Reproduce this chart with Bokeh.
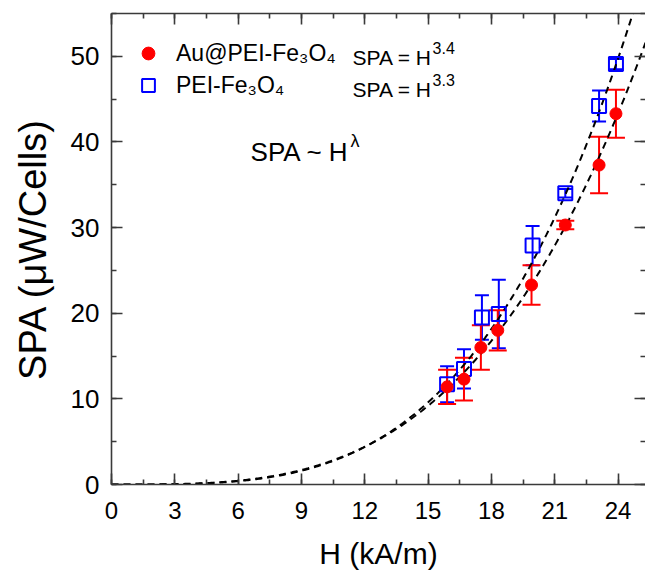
import numpy as np
from bokeh.plotting import figure
from bokeh.models import (ColumnDataSource, Whisker, TeeHead, LinearAxis,
                          SingleIntervalTicker, Range1d, Legend, LegendItem, Label,
                          CustomJSTickFormatter)
from bokeh.embed import file_html
from bokeh.resources import INLINE

# ---- data ----
H_au = [15.9, 16.7, 17.5, 18.3, 19.9, 21.5, 23.1, 23.9]
SPA_au = [11.4, 12.3, 16.0, 18.0, 23.3, 30.3, 37.3, 43.3]
ERR_au = [2.0, 2.5, 2.6, 2.35, 2.3, 0.5, 3.3, 2.8]

H_pei = [15.9, 16.7, 17.55, 18.35, 19.95, 21.5, 23.1, 23.9]
SPA_pei = [11.7, 13.5, 19.5, 19.9, 27.9, 34.0, 44.2, 49.1]
ERR_pei = [2.1, 2.3, 2.6, 4.0, 2.3, 0.5, 1.8, 0.6]

# power-law fit curves SPA = A * H^lambda (as drawn)
FIT_PEI_A, FIT_PEI_EXP = 7.344e-4, 3.5
FIT_AU_A, FIT_AU_EXP = 1.2086e-3, 3.3

X_TICK_STEP = 3
Y_TICK_STEP = 10
X_MAX = 25.3
Y_MAX = 55

FONT = "Liberation Sans"
AXIS_COLOR = "#3a3a3a"

p = figure(width=645, height=572, output_backend="svg", toolbar_location=None,
           x_range=Range1d(0, X_MAX), y_range=Range1d(0, Y_MAX),
           min_border_left=111, min_border_top=13, min_border_right=0,
           min_border_bottom=86, x_axis_label="H (kA/m)",
           y_axis_label="SPA (\u03bcW/Cells)")
p.outline_line_color = None
p.grid.visible = False
p.background_fill_color = "white"
p.border_fill_color = "white"

xt = SingleIntervalTicker(interval=X_TICK_STEP, num_minor_ticks=2)
yt = SingleIntervalTicker(interval=Y_TICK_STEP, num_minor_ticks=2)

def style_axis(ax, show_labels=True, line=True):
    ax.axis_line_color = AXIS_COLOR if line else None
    ax.axis_line_width = 1.6
    ax.major_tick_line_color = AXIS_COLOR
    ax.minor_tick_line_color = AXIS_COLOR
    ax.major_tick_line_width = 1.6
    ax.minor_tick_line_width = 1.6
    ax.major_tick_in = 11
    ax.major_tick_out = 0
    ax.minor_tick_in = 5
    ax.minor_tick_out = 0
    ax.major_label_text_font = FONT
    ax.axis_label_text_font = FONT
    ax.axis_label_text_font_style = "normal"
    ax.major_label_text_color = "black"
    ax.axis_label_text_color = "black"
    if not show_labels:
        ax.formatter = CustomJSTickFormatter(code="return ''")
        ax.major_label_standoff = 0

xa = p.xaxis[0]
xa.ticker = xt
style_axis(xa)
xa.major_label_text_font_size = "24px"
xa.major_label_standoff = 17
xa.axis_label_text_font_size = "30px"
xa.axis_label_standoff = 15

ya = p.yaxis[0]
ya.ticker = yt
style_axis(ya)
ya.major_label_text_font_size = "26px"
ya.major_label_standoff = 12
ya.axis_label_text_font_size = "38px"
ya.axis_label_standoff = 14

top = LinearAxis(ticker=SingleIntervalTicker(interval=X_TICK_STEP, num_minor_ticks=2))
style_axis(top, show_labels=False)
p.add_layout(top, "above")
right = LinearAxis(ticker=SingleIntervalTicker(interval=Y_TICK_STEP, num_minor_ticks=2))
style_axis(right, show_labels=False, line=False)
p.add_layout(right, "right")

# ---- fit curves ----
hh = np.linspace(0, X_MAX, 400)
p.line(hh, FIT_PEI_A * hh ** FIT_PEI_EXP, line_color="black", line_width=2, line_dash="7 5")
p.line(hh, FIT_AU_A * hh ** FIT_AU_EXP, line_color="black", line_width=2, line_dash="7 5")

# ---- PEI-Fe3O4 (blue) ----
src_pei = ColumnDataSource(dict(x=H_pei, y=SPA_pei,
                                lo=[v - e for v, e in zip(SPA_pei, ERR_pei)],
                                hi=[v + e for v, e in zip(SPA_pei, ERR_pei)]))
p.add_layout(Whisker(source=src_pei, base="x", upper="hi", lower="lo",
                     line_color="blue", line_width=2,
                     upper_head=TeeHead(size=14, line_color="blue", line_width=2),
                     lower_head=TeeHead(size=14, line_color="blue", line_width=2)))
r_pei = p.scatter("x", "y", source=src_pei, marker="square", size=14,
                  fill_color=None, line_color="blue", line_width=2)

# ---- Au@PEI-Fe3O4 (red) ----
src_au = ColumnDataSource(dict(x=H_au, y=SPA_au,
                               lo=[v - e for v, e in zip(SPA_au, ERR_au)],
                               hi=[v + e for v, e in zip(SPA_au, ERR_au)]))
p.add_layout(Whisker(source=src_au, base="x", upper="hi", lower="lo",
                     line_color="red", line_width=2,
                     upper_head=TeeHead(size=18, line_color="red", line_width=2),
                     lower_head=TeeHead(size=18, line_color="red", line_width=2)))
r_au = p.scatter("x", "y", source=src_au, marker="circle", size=12,
                 fill_color="red", line_color="red")

# ---- legend ----
legend = Legend(items=[LegendItem(label="Au@PEI-Fe\u2083O\u2084", renderers=[r_au]),
                       LegendItem(label="PEI-Fe\u2083O\u2084", renderers=[r_pei])],
                location=(21, 383), margin=0, padding=0, spacing=0,
                glyph_width=32, glyph_height=32, label_standoff=12,
                label_text_font=FONT, label_text_font_size="23px",
                label_text_color="black",
                background_fill_alpha=0, border_line_color=None)
p.add_layout(legend, "center")

# ---- annotation texts (placed by page pixel, converted to data) ----
def dx(px):
    return (px - 111) / 21.1

def dy(py):
    return (486 - py) / 8.6

def add_text(px, py, txt, size):
    p.add_layout(Label(x=dx(px), y=dy(py), text=txt, text_font=FONT,
                       text_font_size=size, text_baseline="middle",
                       text_align="left", text_color="black"))

add_text(352, 57, "SPA = H", "21px")
add_text(432, 48, "3.4", "16px")
add_text(352, 89, "SPA = H", "21px")
add_text(432, 80, "3.3", "16px")
add_text(250, 152, "SPA ~ H", "26px")
add_text(350, 141, "\u03bb", "18px")

open("out.html", "w").write(file_html(p, INLINE))
